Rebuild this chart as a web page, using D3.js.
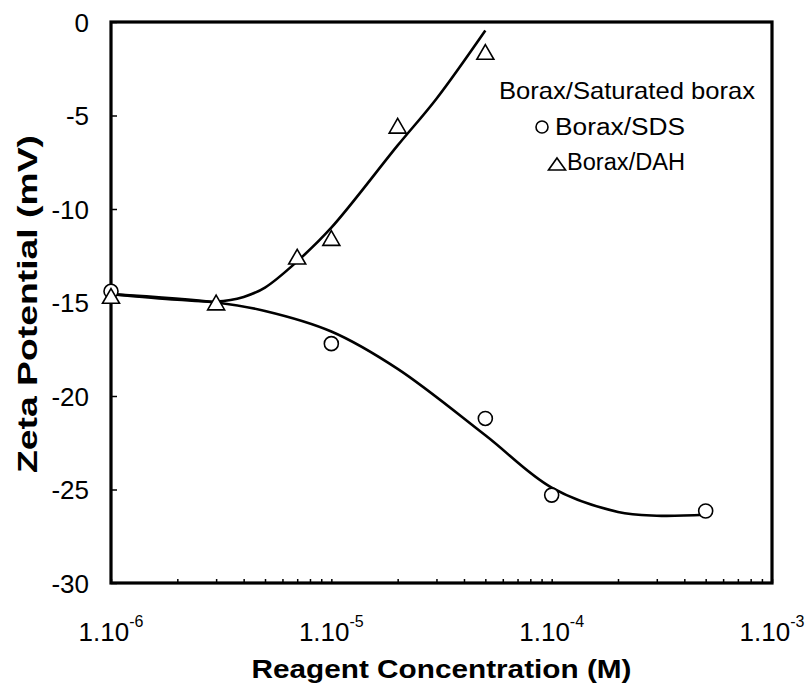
<!DOCTYPE html>
<html>
<head>
<meta charset="utf-8">
<script src="https://cdn.jsdelivr.net/npm/d3@7"></script>
<style>
  body { margin: 0; background: #fff; }
  svg { font-family: Arial, "Liberation Sans", sans-serif; }
</style>
</head>
<body>
<div class="container"></div>
<script>
var sdsConc = [1e-6, 1e-5, 5e-5, 1e-4, 5e-4]
var sdsZeta = [-14.4, -17.2, -21.2, -25.3, -26.15]

var dahConc = [1e-6, 3e-6, 7e-6, 1e-5, 2e-5, 5e-5]
var dahZeta = [-14.65, -15.0, -12.55, -11.55, -5.55, -1.6]

// fitted trend lines, sampled along the drawn curves
var sdsFitConc = [1e-6, 3e-6, 5e-6, 1e-5, 2e-5, 5e-5, 1e-4, 2e-4, 3e-4, 5e-4]
var sdsFitZeta = [-14.55, -15.0, -15.45, -16.55, -18.55, -22.1, -24.9, -26.2, -26.4, -26.35]

var dahFitConc = [1e-6, 2e-6, 3e-6, 4e-6, 5e-6, 7e-6, 1e-5, 2e-5, 3e-5, 5e-5]
var dahFitZeta = [-14.55, -14.85, -14.95, -14.7, -14.2, -12.8, -11.0, -6.6, -4.1, -0.45]

var yTicks = [0, -5, -10, -15, -20, -25, -30]
var xDecades = [1e-6, 1e-5, 1e-4, 1e-3]
var xExponents = ['-6', '-5', '-4', '-3']

var legendTitle = 'Borax/Saturated borax'
var legendNames = ['Borax/SDS', 'Borax/DAH']

var chart = { width: 811, height: 686, left: 111, right: 772, top: 22, bottom: 583 }

var svg = d3.select('.container').append('svg')
    .attr('width', chart.width)
    .attr('height', chart.height)

var x = d3.scaleLog().domain([1e-6, 1e-3]).range([chart.left, chart.right])
var y = d3.scaleLinear().domain([0, -30]).range([chart.top, chart.bottom])

// x axis: inward log ticks
var xAxis = svg.append('g')
    .attr('transform', 'translate(0,' + chart.bottom + ')')
    .call(d3.axisBottom(x).tickValues(x.ticks()).tickSizeInner(-4).tickSizeOuter(0).tickFormat(''))
xAxis.select('.domain').remove()
xAxis.selectAll('.tick line').attr('stroke', '#000').attr('stroke-width', 1.5)

var xLabels = svg.append('g')
xLabels.selectAll('text').data(xDecades).enter().append('text')
    .attr('x', function (d) { return x(d) })
    .attr('y', 641)
    .attr('text-anchor', 'middle')
    .attr('font-size', 26)
    .attr('fill', '#000')
    .each(function (d, i) {
      var t = d3.select(this)
      t.append('tspan').text('1.10')
      t.append('tspan').attr('dy', -14).attr('font-size', 16).text(xExponents[i])
    })

// y axis: inward ticks
var yAxis = svg.append('g')
    .attr('transform', 'translate(' + chart.left + ',0)')
    .call(d3.axisLeft(y).tickValues(yTicks).tickSizeInner(-6).tickSizeOuter(0).tickPadding(22)
      .tickFormat(function (d) { return d3.format('d')(d).replace('−', '-') }))
yAxis.select('.domain').remove()
yAxis.selectAll('.tick line').attr('stroke', '#000').attr('stroke-width', 1.5)
yAxis.selectAll('.tick text')
    .attr('font-size', 26)
    .attr('font-family', 'Arial, "Liberation Sans", sans-serif')
    .attr('fill', '#000')
    .attr('dy', '0.36em')

// frame
svg.append('rect')
    .attr('x', chart.left).attr('y', chart.top)
    .attr('width', chart.right - chart.left).attr('height', chart.bottom - chart.top)
    .attr('fill', 'none').attr('stroke', '#000').attr('stroke-width', 3.2)

// axis titles
svg.append('text')
    .attr('x', (chart.left + chart.right) / 2)
    .attr('y', 678)
    .attr('text-anchor', 'middle')
    .attr('font-size', 26).attr('font-weight', 'bold')
    .attr('textLength', 380).attr('lengthAdjust', 'spacingAndGlyphs')
    .text('Reagent Concentration (M)')

svg.append('text')
    .attr('transform', 'translate(37,' + 304 + ') rotate(-90)')
    .attr('text-anchor', 'middle')
    .attr('font-size', 27).attr('font-weight', 'bold')
    .attr('textLength', 338).attr('lengthAdjust', 'spacingAndGlyphs')
    .text('Zeta Potential (mV)')

// fitted curves
var line = d3.line()
    .x(function (d) { return x(d[0]) })
    .y(function (d) { return y(d[1]) })
    .curve(d3.curveCatmullRom.alpha(0.5))

svg.append('path')
    .datum(d3.zip(sdsFitConc, sdsFitZeta))
    .attr('d', line)
    .attr('fill', 'none').attr('stroke', '#000').attr('stroke-width', 2.6)

svg.append('path')
    .datum(d3.zip(dahFitConc, dahFitZeta))
    .attr('d', line)
    .attr('fill', 'none').attr('stroke', '#000').attr('stroke-width', 2.6)

// markers
var circleSym = d3.symbol().type(d3.symbolCircle).size(Math.PI * 7 * 7)
var triSym = function (s) {
  var h = s * Math.sqrt(3) / 2
  return 'M0,' + (-h / 2) + 'L' + (s / 2) + ',' + (h / 2) + 'L' + (-s / 2) + ',' + (h / 2) + 'Z'
}

svg.append('g').selectAll('path').data(d3.zip(sdsConc, sdsZeta)).enter().append('path')
    .attr('transform', function (d) { return 'translate(' + x(d[0]) + ',' + y(d[1]) + ')' })
    .attr('d', circleSym)
    .attr('fill', '#fff').attr('stroke', '#000').attr('stroke-width', 1.6)

svg.append('g').selectAll('path').data(d3.zip(dahConc, dahZeta)).enter().append('path')
    .attr('transform', function (d) { return 'translate(' + x(d[0]) + ',' + y(d[1]) + ')' })
    .attr('d', triSym(17))
    .attr('fill', '#fff').attr('stroke', '#000').attr('stroke-width', 1.6)

// legend
var legend = svg.append('g')
legend.append('text')
    .attr('x', 627).attr('y', 99)
    .attr('text-anchor', 'middle')
    .attr('font-size', 24)
    .attr('textLength', 256).attr('lengthAdjust', 'spacingAndGlyphs')
    .text(legendTitle)

legend.append('path')
    .attr('transform', 'translate(542,127)')
    .attr('d', d3.symbol().type(d3.symbolCircle).size(Math.PI * 6 * 6))
    .attr('fill', 'none').attr('stroke', '#000').attr('stroke-width', 1.6)
legend.append('text')
    .attr('x', 555).attr('y', 135)
    .attr('font-size', 23)
    .attr('textLength', 130).attr('lengthAdjust', 'spacingAndGlyphs')
    .text(legendNames[0])

legend.append('path')
    .attr('transform', 'translate(557,164)')
    .attr('d', 'M0,-6L8.5,6L-8.5,6Z')
    .attr('fill', 'none').attr('stroke', '#000').attr('stroke-width', 1.6)
legend.append('text')
    .attr('x', 567).attr('y', 170)
    .attr('font-size', 23)
    .attr('textLength', 118).attr('lengthAdjust', 'spacingAndGlyphs')
    .text(legendNames[1])
</script>
</body>
</html>
